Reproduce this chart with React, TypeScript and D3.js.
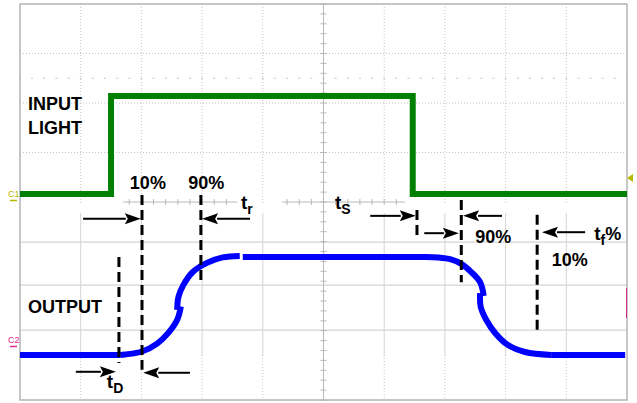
import * as d3 from 'd3';

// Oscilloscope-style timing diagram: photo-transistor response to a light pulse.
// Time axis 0..100 (10 divisions), amplitude axis -40..40 (8 divisions).
const W = 637;
const H = 403;

const X_DIVS = d3.range(0, 101, 10);
const UPPER_GRID_Y = [30, 20, 10];
const LOWER_GRID_Y = [-8.1, -16.8, -25.9];
const TICK_ROW_Y = 25;
const CENTER_AXIS_SEGMENTS: [number, number][] = [[17, 35.8], [43.2, 63.4]];

const INPUT_LIGHT: [number, number][] = [
  [0, 1.6], [15, 1.6], [15, 21.4], [64.7, 21.4], [64.7, 1.6], [100, 1.6],
];

const OUTPUT_SEGMENTS: [number, number][][] = [
  [[0, -30.9], [16.5, -30.9]],
  [[16.5, -30.9], [17.3, -30.8], [20.1, -30.2], [22.6, -28.6], [24.4, -26.5], [25.9, -23.8], [26.5, -21.1]],
  [[25.9, -21.8], [26.1, -19.2], [26.9, -16.8], [28.5, -14.1], [30.8, -12.3], [33.4, -11.2], [36.2, -10.9]],
  [[36.7, -11.1], [67.2, -11.1]],
  [[66.8, -11.1], [68.9, -11.2], [71.0, -11.6], [72.7, -12.5], [74.3, -14.1], [75.8, -16.2], [76.4, -19.0]],
  [[75.8, -18.4], [75.9, -21.2], [76.8, -23.8], [78.3, -26.5], [80.4, -28.9], [83.2, -30.3], [87.5, -30.9]],
  [[87.5, -30.9], [99.7, -30.9]],
];

const MARKERS = [
  { x: 16.3, y0: -11.1, y1: -32.5 },
  { x: 20.1, y0: 1.4, y1: -33.9 },
  { x: 29.8, y0: 1.4, y1: -16.4 },
  { x: 65.4, y0: -1.6, y1: -7.7 },
  { x: 72.7, y0: 0.4, y1: -16.2 },
  { x: 85.2, y0: -2.6, y1: -25.9 },
];

const ARROWS = [
  { from: 10.4, to: 19.9, y: -3.4 },
  { from: 37.9, to: 30.0, y: -3.4 },
  { from: 9.2, to: 15.8, y: -34.3 },
  { from: 28.0, to: 20.3, y: -34.5 },
  { from: 57.7, to: 65.2, y: -2.8 },
  { from: 66.6, to: 72.3, y: -6.3 },
  { from: 79.4, to: 73.0, y: -2.8 },
  { from: 93.1, to: 86.0, y: -6.1 },
];

const LABELS = [
  { text: 'INPUT', x: 1.3, y: 18.6 },
  { text: 'LIGHT', x: 1.3, y: 13.7 },
  { text: 'OUTPUT', x: 1.3, y: -22.4 },
  { text: '10%', x: 18.1, y: 2.6 },
  { text: '90%', x: 27.7, y: 2.6 },
  { text: '90%', x: 75.0, y: -8.3 },
  { text: '10%', x: 87.6, y: -12.9 },
];

// main letter, subscript, trailing text
const TIME_LABELS = [
  { main: 't', sub: 'r', tail: '', x: 36.4, y: -1.4 },
  { main: 't', sub: 'S', tail: '', x: 51.9, y: -1.4 },
  { main: 't', sub: 'f', tail: '%', x: 94.6, y: -7.7 },
  { main: 't', sub: 'D', tail: '', x: 14.3, y: -37.6 },
];

const x = d3.scaleLinear().domain([0, 100]).range([20, 627]);
const y = d3.scaleLinear().domain([-40, 40]).range([400, 4]);

const FONT = '"Liberation Sans", Arial, sans-serif';
const GRID = '#c4c4c4';

export default function App() {
  const line = d3.line<[number, number]>().x(d => x(d[0])).y(d => y(d[1]));
  const smooth = d3.line<[number, number]>()
    .x(d => x(d[0])).y(d => y(d[1]))
    .curve(d3.curveCatmullRom.alpha(0.5));

  const yMid = y(0);
  const xMid = x(50);
  const splitY = 205;
  const lowerDotY = 355;

  const vTicks = d3.range(y(40), y(-40) + 0.1, (y(-40) - y(40)) / 40);
  const hTickStep = (x(100) - x(0)) / 50;

  return (
    <div style={{ position: 'absolute', left: 0, top: 0, background: '#fff' }}>
      <svg width={W} height={H} style={{ display: 'block' }}>
        <rect width={W} height={H} fill="#fff" />

        {/* grid: upper half dotted, lower half solid */}
        {X_DIVS.slice(1, -1).filter(d => d !== 50).map(d => (
          <g key={`v${d}`}>
            <line x1={x(d)} x2={x(d)} y1={y(40)} y2={splitY}
              stroke={GRID} strokeWidth={1} strokeDasharray="1 2" />
            <line x1={x(d)} x2={x(d)} y1={splitY + 8} y2={lowerDotY}
              stroke="#d4d4d4" strokeWidth={1} />
            <line x1={x(d)} x2={x(d)} y1={lowerDotY} y2={y(-40)}
              stroke={GRID} strokeWidth={1} strokeDasharray="1 2" />
          </g>
        ))}
        {UPPER_GRID_Y.map(v => (
          <line key={`hu${v}`} x1={x(0)} x2={x(100)} y1={y(v)} y2={y(v)}
            stroke={GRID} strokeWidth={1} strokeDasharray="1 2" />
        ))}
        {LOWER_GRID_Y.map(v => (
          <line key={`hl${v}`} x1={x(0)} x2={x(100)} y1={y(v)} y2={y(v)}
            stroke="#d4d4d4" strokeWidth={1.2} />
        ))}
        {d3.range(0, 101, 2).map(t => (
          <line key={`tr${t}`} x1={x(t) - 1} x2={x(t) + 1} y1={y(TICK_ROW_Y)} y2={y(TICK_ROW_Y)}
            stroke={GRID} strokeWidth={1} />
        ))}

        {/* center axes with minor ticks */}
        <line x1={xMid} x2={xMid} y1={y(40)} y2={y(-40)} stroke="#b8b8b8" strokeWidth={1} />
        {vTicks.map((ty, i) => (
          <line key={`vt${i}`} x1={xMid - 3} x2={xMid + 3} y1={ty} y2={ty} stroke="#b8b8b8" strokeWidth={1} />
        ))}
        {CENTER_AXIS_SEGMENTS.map(([a, b]) => (
          <g key={`ca${a}`}>
            <line x1={x(a)} x2={x(b)} y1={yMid} y2={yMid} stroke="#b8b8b8" strokeWidth={1} />
            {d3.range(Math.ceil((x(a) - x(0)) / hTickStep), Math.floor((x(b) - x(0)) / hTickStep) + 1).map(k => (
              <line key={k} x1={x(0) + k * hTickStep} x2={x(0) + k * hTickStep} y1={yMid - 3} y2={yMid + 3}
                stroke="#b8b8b8" strokeWidth={1} />
            ))}
          </g>
        ))}

        {/* frame */}
        <rect x={x(0)} y={y(40)} width={x(100) - x(0)} height={y(-40) - y(40)}
          fill="none" stroke="#b4b4b4" strokeWidth={1.5} />

        {/* channel markers */}
        <text x={8} y={197} fontFamily={FONT} fontSize={9} fill="#b8b800">C1</text>
        <line x1={10} x2={17} y1={200.5} y2={200.5} stroke="#b8b800" strokeWidth={1.5} />
        <text x={8} y={343} fontFamily={FONT} fontSize={9} fill="#e0288c">C2</text>
        <line x1={10} x2={17} y1={346.5} y2={346.5} stroke="#e0288c" strokeWidth={1.5} />
        <path d={`M${x(100)},178 L${x(100) + 6},174 L${x(100) + 6},182 Z`} fill="#b8b800" />
        <line x1={x(100) - 0.5} x2={x(100) - 0.5} y1={288} y2={318} stroke="#e0288c" strokeWidth={1} />

        {/* input light (green) */}
        <path d={line(INPUT_LIGHT) ?? ''} fill="none" stroke="#008000" strokeWidth={6}
          strokeLinejoin="miter" strokeLinecap="butt" />

        {/* output (blue) */}
        {OUTPUT_SEGMENTS.map((seg, i) => (
          <path key={`o${i}`} d={(seg.length > 2 ? smooth(seg) : line(seg)) ?? ''}
            fill="none" stroke="#0000ff" strokeWidth={6} strokeLinecap="butt" />
        ))}

        {/* dashed measurement markers */}
        {MARKERS.map((m, i) => (
          <line key={`m${i}`} x1={x(m.x)} x2={x(m.x)} y1={y(m.y0)} y2={y(m.y1)}
            stroke="#000" strokeWidth={3} strokeDasharray="10 5" />
        ))}

        {/* arrows */}
        {ARROWS.map((a, i) => {
          const x0 = x(a.from);
          const x1 = x(a.to);
          const yy = y(a.y);
          const dir = Math.sign(x1 - x0);
          const head = 16;
          return (
            <g key={`a${i}`}>
              <line x1={x0} x2={x1 - dir * head + dir} y1={yy} y2={yy} stroke="#000" strokeWidth={2} />
              <path d={`M${x1},${yy} L${x1 - dir * head},${yy - 5.5} L${x1 - dir * (head - 3)},${yy} L${x1 - dir * head},${yy + 5.5} Z`} fill="#000" />
            </g>
          );
        })}

        {/* labels */}
        {LABELS.map((l, i) => (
          <text key={`l${i}`} x={x(l.x)} y={y(l.y)} fontFamily={FONT} fontWeight="bold"
            fontSize={18} fill="#000">{l.text}</text>
        ))}
        {TIME_LABELS.map((l, i) => (
          <text key={`t${i}`} x={x(l.x)} y={y(l.y)} fontFamily={FONT} fontWeight="bold"
            fontSize={19} fill="#000">
            <tspan>{l.main}</tspan>
            <tspan dy={5} fontSize={14}>{l.sub}</tspan>
            {l.tail ? <tspan dy={-5} fontSize={18}>{l.tail}</tspan> : null}
          </text>
        ))}
      </svg>
    </div>
  );
}
